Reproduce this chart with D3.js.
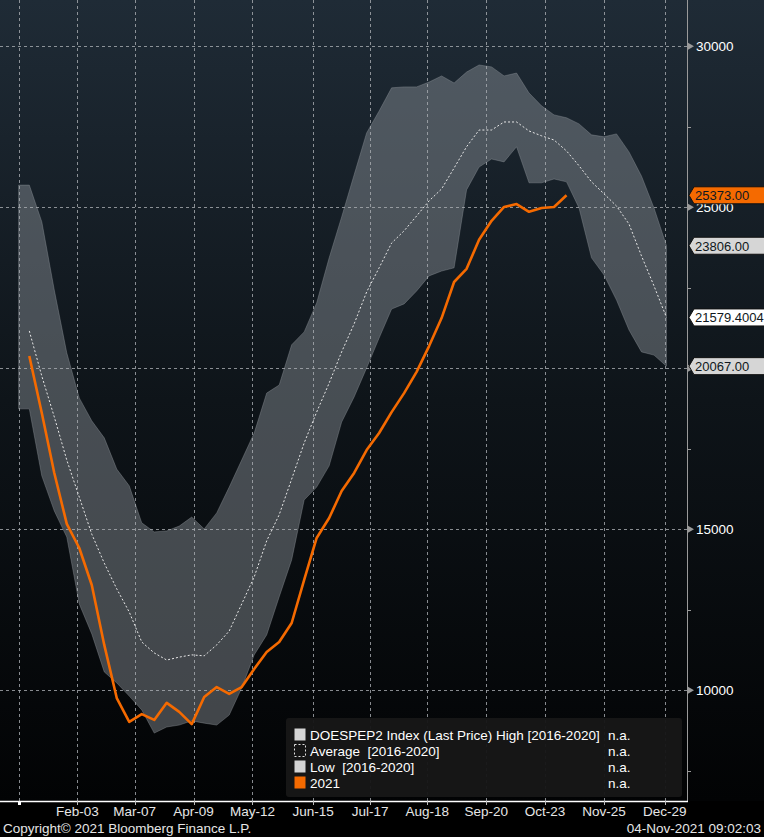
<!DOCTYPE html>
<html>
<head>
<meta charset="utf-8">
<script src="https://cdn.jsdelivr.net/npm/d3@7"></script>
<style>
  body { margin: 0; background: #000; overflow: hidden; }
  text { font-family: "Liberation Sans", Arial, sans-serif; font-size: 13.5px; white-space: pre; }
</style>
</head>
<body>
<div id="chart"></div>
<script>
// weekly values, 2016-2020 range and 2021 (thousand barrels)
var highVals = [25690, 25690, 24550, 22430, 20480, 19080, 18370, 17840, 16870, 16350, 15200,
    14920, 14950, 15100, 15380, 15010, 15510, 16310, 17150, 17990, 19230, 19480,
    20730, 21130, 22030, 23430, 24700, 26010, 27310, 27990, 28710, 28740, 28740,
    28890, 29080, 28860, 29200, 29420, 29360, 29080, 29170, 28550, 28150, 27870,
    27780, 27590, 27250, 27190, 27280, 26720, 25970, 24980, 23806];
var lowVals = [18740, 18740, 16660, 15570, 14760, 12680, 11750, 10570, 10230, 9820, 9390,
    8670, 8860, 8920, 9050, 8980, 8920, 9230, 10070, 11100, 11720, 12900,
    14050, 15910, 16310, 16970, 18330, 19110, 20010, 20940, 21840, 22000, 22400,
    22870, 23020, 23120, 25540, 26250, 26500, 26410, 26880, 25760, 25760, 25880,
    25790, 24980, 23430, 22900, 22120, 21190, 20510, 20410, 20067];
var avgVals = [21160, 19760, 18490, 17150, 16000, 14850, 13950, 13150, 12430, 11500,
    11160, 10940, 11030, 11100, 11070, 11410, 11840, 12680, 13520, 14640, 15450,
    16560, 17680, 18640, 19540, 20510, 21380, 22370, 23120, 23890, 24270, 24730,
    25200, 25570, 26220, 26880, 27400, 27400, 27650, 27650, 27370, 27220, 27090,
    26750, 26290, 25790, 25420, 25040, 24480, 23490, 22560, 21579.4004];
var vals2021 = [20380, 18610, 16750, 15170, 14420, 13270, 11410, 9760, 9020, 9260,
    9080, 9610, 9330, 8950, 9790, 10100, 9890, 10100, 10660, 11190, 11500,
    12090, 13430, 14730, 15350, 16190, 16750, 17460, 17990, 18640, 19230, 19890,
    20690, 21560, 22680, 23090, 23990, 24580, 25010, 25100, 24860, 24980, 25010, 25373];

var tickDates = ["2021-02-03", "2021-03-07", "2021-04-09", "2021-05-12", "2021-06-15",
    "2021-07-17", "2021-08-18", "2021-09-20", "2021-10-23", "2021-11-25", "2021-12-29"];
var yTicks = [10000, 15000, 20000, 25000, 30000];
var yTickLabels = [10000, 15000, 25000, 30000]; // 20000 sits under the Low label
var yMinor = [7500, 12500, 17500, 22500, 27500];

var legendItems = ["DOESPEP2 Index (Last Price) High [2016-2020]", "Average  [2016-2020]",
    "Low  [2016-2020]", "2021"];

var width = 764, height = 837;
var plotW = 687, plotH = 801;
var orange = "#f56a00";

var parse = d3.timeParse("%Y-%m-%d");
var fmt = d3.timeFormat("%b-%d");

// weekly report dates; band starts one week earlier
var weeks = d3.range(52).map(function (i) { return d3.timeDay.offset(new Date(2021, 0, 7), 7 * i); });
var bandDates = [new Date(2021, 0, 1)].concat(weeks);

var svg = d3.select("#chart").append("svg")
    .attr("width", width)
    .attr("height", height);

var defs = svg.append("defs");
var grad = defs.append("linearGradient")
    .attr("id", "bg")
    .attr("x1", 0).attr("y1", 0).attr("x2", 0).attr("y2", 1);
grad.append("stop").attr("offset", "0%").attr("stop-color", "#1f2b36");
grad.append("stop").attr("offset", "50%").attr("stop-color", "#0e1419");
grad.append("stop").attr("offset", "100%").attr("stop-color", "#020304");

svg.append("rect").attr("width", width).attr("height", height).attr("fill", "#000");
svg.append("rect").attr("width", width).attr("height", plotH).attr("fill", "url(#bg)");

var x = d3.scaleTime()
    .domain([new Date(2020, 11, 21, 14), new Date(2022, 0, 10, 12)])
    .range([0, plotW]);
var y = d3.scaleLinear()
    .domain([6562, 31438])
    .range([plotH, 0]);

// band between high and low
var band = d3.area()
    .x(function (d, i) { return x(bandDates[i]); })
    .y0(function (d, i) { return y(lowVals[i]); })
    .y1(function (d) { return y(d); });

svg.append("path")
    .datum(highVals)
    .attr("d", band)
    .attr("fill", "#8f959b")
    .attr("fill-opacity", 0.45)
    .attr("stroke", "#9aa0a6")
    .attr("stroke-opacity", 0.35)
    .attr("stroke-width", 1);

// grid
var grid = svg.append("g").attr("class", "grid");
grid.selectAll("line.v")
    .data([new Date(2021, 0, 1)].concat(tickDates.map(parse)))
    .enter().append("line")
    .attr("x1", function (d) { return Math.round(x(d)) + 0.5; })
    .attr("x2", function (d) { return Math.round(x(d)) + 0.5; })
    .attr("y1", 0).attr("y2", plotH)
    .attr("stroke", "#a9adb1")
    .attr("stroke-opacity", 0.8)
    .attr("stroke-dasharray", "3,3");
grid.selectAll("line.h")
    .data(yTicks)
    .enter().append("line")
    .attr("x1", 0).attr("x2", plotW)
    .attr("y1", function (d) { return Math.round(y(d)) + 0.5; })
    .attr("y2", function (d) { return Math.round(y(d)) + 0.5; })
    .attr("stroke", "#a9adb1")
    .attr("stroke-opacity", 0.8)
    .attr("stroke-dasharray", "3,3");

// average (dotted)
var line = d3.line()
    .x(function (d, i) { return x(weeks[i]); })
    .y(function (d) { return y(d); });

svg.append("path")
    .datum(avgVals)
    .attr("d", line)
    .attr("fill", "none")
    .attr("stroke", "#e8e8e8")
    .attr("stroke-width", 1)
    .attr("stroke-dasharray", "2,2");

// 2021
svg.append("path")
    .datum(vals2021)
    .attr("d", line)
    .attr("fill", "none")
    .attr("stroke", orange)
    .attr("stroke-width", 2.6)
    .attr("stroke-linejoin", "round");

// right axis
var yAxis = svg.append("g").attr("class", "y-axis");
yAxis.append("line")
    .attr("x1", plotW + 0.5).attr("x2", plotW + 0.5)
    .attr("y1", 0).attr("y2", plotH)
    .attr("stroke", "#9a9a9a");
yAxis.selectAll("path.arrow")
    .data(yTicks)
    .enter().append("path")
    .attr("d", function (d) {
        var yy = y(d);
        return "M" + (plotW + 1) + "," + (yy - 3.5) + "L" + (plotW + 7) + "," + yy + "L" + (plotW + 1) + "," + (yy + 3.5) + "Z";
    })
    .attr("fill", "#9a9a9a");
yAxis.selectAll("line.minor")
    .data(yMinor)
    .enter().append("line")
    .attr("x1", plotW).attr("x2", plotW + 4)
    .attr("y1", function (d) { return Math.round(y(d)) + 0.5; })
    .attr("y2", function (d) { return Math.round(y(d)) + 0.5; })
    .attr("stroke", "#9a9a9a");
yAxis.selectAll("text")
    .data(yTickLabels)
    .enter().append("text")
    .attr("x", plotW + 9)
    .attr("y", function (d) { return y(d) + 5; })
    .attr("fill", "#ffffff")
    .text(function (d) { return d; });

// bottom axis
var xAxis = svg.append("g").attr("class", "x-axis");
xAxis.append("line")
    .attr("x1", 0).attr("x2", plotW + 1)
    .attr("y1", plotH + 0.5).attr("y2", plotH + 0.5)
    .attr("stroke", "#ffffff")
    .attr("stroke-width", 1.5);
xAxis.append("rect")
    .attr("x", Math.round(x(new Date(2021, 0, 1))) - 1)
    .attr("y", plotH)
    .attr("width", 3).attr("height", 4)
    .attr("fill", "#ffffff");
xAxis.selectAll("line.tick")
    .data(tickDates.map(parse))
    .enter().append("line")
    .attr("x1", function (d) { return Math.round(x(d)) + 0.5; })
    .attr("x2", function (d) { return Math.round(x(d)) + 0.5; })
    .attr("y1", plotH).attr("y2", plotH + 4)
    .attr("stroke", "#bbbbbb");
xAxis.selectAll("text")
    .data(tickDates.map(parse))
    .enter().append("text")
    .attr("x", function (d) { return x(d); })
    .attr("y", plotH + 15)
    .attr("text-anchor", "middle")
    .attr("fill", "#e6e6e6")
    .text(function (d) { return fmt(d); });

// last value labels
var lastLabels = [
    { v: highVals[highVals.length - 1], t: "23806.00", fill: "#d6d6d6" },
    { v: avgVals[avgVals.length - 1], t: "21579.4004", fill: "#ffffff" },
    { v: lowVals[lowVals.length - 1], t: "20067.00", fill: "#d6d6d6" },
    { v: vals2021[vals2021.length - 1], t: "25373.00", fill: orange }
];
var lbl = svg.selectAll("g.last")
    .data(lastLabels)
    .enter().append("g")
    .attr("class", "last")
    .attr("transform", function (d) { return "translate(" + (plotW + 2) + "," + y(d.v) + ")"; });
lbl.append("path")
    .attr("d", "M0,0L5,-8.5L80,-8.5L80,8.5L5,8.5Z")
    .attr("fill", function (d) { return d.fill; })
    .attr("stroke", "#111")
    .attr("stroke-width", 1);
lbl.append("text")
    .attr("x", 6)
    .attr("y", 5)
    .attr("fill", "#101820")
    .style("font-size", "13px")
    .text(function (d) { return d.t; });

// legend
var legend = svg.append("g").attr("transform", "translate(286,718)");
legend.append("rect")
    .attr("width", 396).attr("height", 79)
    .attr("rx", 3)
    .attr("fill", "#171717")
    .attr("fill-opacity", 0.96);
var entry = legend.selectAll("g.entry")
    .data(legendItems)
    .enter().append("g")
    .attr("class", "entry")
    .attr("transform", function (d, i) { return "translate(0," + (10 + i * 16) + ")"; });
entry.append("rect")
    .attr("x", 8.5).attr("y", 0.5)
    .attr("width", 11).attr("height", 12)
    .attr("fill", function (d, i) { return i === 1 ? "none" : (i === 3 ? orange : "#d4d4d4"); })
    .attr("stroke", function (d, i) { return i === 1 ? "#e0e0e0" : "none"; })
    .attr("stroke-dasharray", "2,2");
entry.append("text")
    .attr("x", 24)
    .attr("y", 11.5)
    .attr("fill", "#ffffff")
    .text(function (d) { return d; });
entry.append("text")
    .attr("x", 322)
    .attr("y", 11.5)
    .attr("fill", "#ffffff")
    .text("n.a.");

// footer
svg.append("text")
    .attr("x", 3).attr("y", 833)
    .attr("fill", "#e6e6e6")
    .text("Copyright\u00a9 2021 Bloomberg Finance L.P.");
svg.append("text")
    .attr("x", 761).attr("y", 833)
    .attr("text-anchor", "end")
    .attr("fill", "#e6e6e6")
    .text("04-Nov-2021 09:02:03");
</script>
</body>
</html>
